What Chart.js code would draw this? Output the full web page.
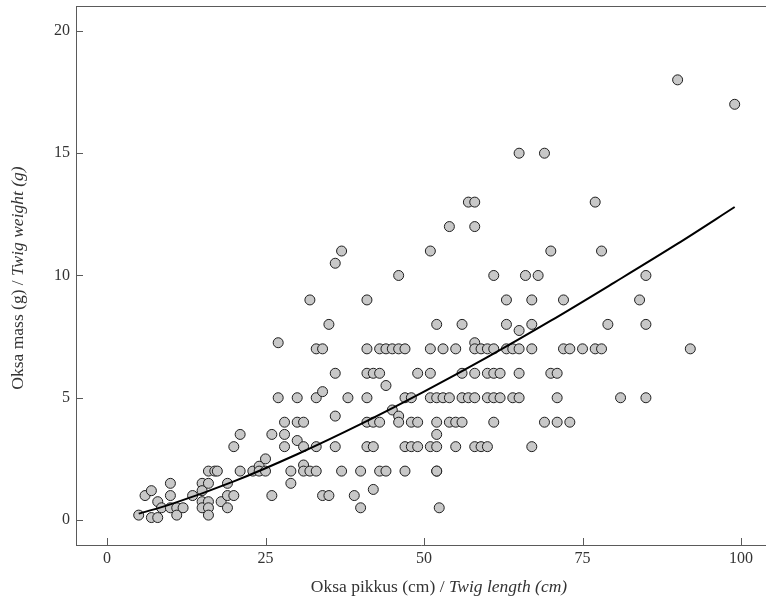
<!DOCTYPE html>
<html>
<head>
<meta charset="utf-8">
<script src="https://cdn.jsdelivr.net/npm/chart.js@4.4.1/dist/chart.umd.min.js"></script>
<style>
  html, body { margin: 0; padding: 0; background: #fff; }
  canvas { display: block; }
</style>
</head>
<body>
<canvas id="twigChart" width="766" height="604"></canvas>
<script>
// twig length (cm) and twig weight (g), one entry per twig
const twigLength = [
  5, 6, 7, 7, 8, 8, 8.6, 10, 10, 10, 11, 11, 12, 13.5, 15, 15, 15, 15, 16, 16,
  16, 16, 16, 17, 17.4, 18, 19, 19, 19, 20, 20, 21, 21, 23, 24, 24, 25, 25, 26, 26,
  27, 27, 28, 28, 28, 29, 29, 30, 30, 30, 31, 31, 31, 31, 32, 32, 33, 33, 33, 33,
  34, 34, 34, 35, 35, 36, 36, 36, 36, 37, 37, 38, 39, 40, 40, 41, 41, 41, 41, 41,
  41, 42, 42, 42, 42, 43, 43, 43, 43, 44, 44, 44, 45, 45, 46, 46, 46, 46, 47, 47,
  47, 47, 48, 48, 48, 49, 49, 49,
  51, 51, 51, 51, 51, 52, 52, 52, 52, 52, 52, 52, 52.4, 53, 53, 54, 54, 54, 55, 55,
  55, 56, 56, 56, 56, 57, 57, 58, 58, 58, 58, 58, 58, 58, 59, 59, 60, 60, 60, 60,
  61, 61, 61, 61, 61, 62, 62, 63, 63, 63, 64, 64, 65, 65, 65, 65, 65, 66, 67, 67,
  67, 67, 68, 69, 69, 70, 70, 71, 71, 71, 72, 72, 73, 73, 75, 77, 77, 78, 78, 79,
  81, 84, 85, 85, 85, 90, 92, 99
];
const twigWeight = [
  0.2, 1, 1.2, 0.1, 0.1, 0.75, 0.5, 1.5, 1, 0.5, 0.5, 0.2, 0.5, 1, 1.5, 1.2, 0.75, 0.5, 1.5, 0.75,
  0.5, 0.2, 2, 2, 2, 0.75, 1.5, 1, 0.5, 1, 3, 3.5, 2, 2, 2.2, 2, 2.5, 2, 3.5, 1,
  7.25, 5, 4, 3.5, 3, 2, 1.5, 5, 4, 3.25, 4, 3, 2.25, 2, 9, 2, 7, 5, 3, 2,
  7, 5.25, 1, 8, 1, 10.5, 6, 4.25, 3, 11, 2, 5, 1, 2, 0.5, 9, 7, 6, 5, 4,
  3, 6, 4, 3, 1.25, 7, 6, 4, 2, 7, 5.5, 2, 7, 4.5, 10, 7, 4.25, 4, 7, 5,
  3, 2, 5, 4, 3, 6, 4, 3,
  11, 7, 6, 5, 3, 8, 5, 4, 3.5, 3, 2, 2, 0.5, 7, 5, 12, 5, 4, 7, 4,
  3, 8, 6, 5, 4, 13, 5, 13, 12, 7.25, 7, 6, 5, 3, 7, 3, 7, 6, 5, 3,
  10, 7, 6, 5, 4, 6, 5, 9, 8, 7, 7, 5, 15, 7.75, 7, 6, 5, 10, 9, 8,
  7, 3, 10, 15, 4, 11, 6, 6, 5, 4, 9, 7, 7, 4, 7, 13, 7, 11, 7, 8,
  5, 9, 10, 8, 5, 18, 7, 17
];

// fitted curve
const fitLength = [5, 10, 20, 30, 40, 50, 60, 70, 80, 90, 99];
const fitWeight = [0.26, 0.64, 1.58, 2.69, 3.92, 5.25, 6.66, 8.15, 9.71, 11.3, 12.8];

const xTicks = [0, 25, 50, 75, 100];
const yTicks = [0, 5, 10, 15, 20];

const AXIS = '#5a5a5a';
const TEXT = '#333';
const FONT = '"Liberation Serif", "Times New Roman", serif';

const points = twigLength.map((x, i) => ({ x: x, y: twigWeight[i] }));
const curve = fitLength.map((x, i) => ({ x: x, y: fitWeight[i] }));

// ticks point into the plot, a top frame line, and the two-style axis titles
const framePlugin = {
  id: 'frame',
  afterDraw(chart) {
    const { ctx, chartArea: a, scales } = chart;
    ctx.save();
    ctx.strokeStyle = AXIS;
    ctx.lineWidth = 1;
    ctx.beginPath();
    ctx.moveTo(a.left, a.top + 0.5);
    ctx.lineTo(a.right, a.top + 0.5);
    xTicks.forEach(v => {
      const px = Math.round(scales.x.getPixelForValue(v)) + 0.5;
      ctx.moveTo(px, a.bottom);
      ctx.lineTo(px, a.bottom - 7);
    });
    yTicks.forEach(v => {
      const py = Math.round(scales.y.getPixelForValue(v)) + 0.5;
      ctx.moveTo(a.left, py);
      ctx.lineTo(a.left + 7, py);
    });
    ctx.stroke();

    ctx.fillStyle = TEXT;
    ctx.textBaseline = 'middle';
    ctx.textAlign = 'left';
    const drawTitle = (plain, italic, cx, cy, rot) => {
      ctx.save();
      ctx.translate(cx, cy);
      ctx.rotate(rot);
      ctx.font = '17.5px ' + FONT;
      const w1 = ctx.measureText(plain).width;
      ctx.font = 'italic 17.5px ' + FONT;
      const w2 = ctx.measureText(italic).width;
      const x0 = -(w1 + w2) / 2;
      ctx.font = '17.5px ' + FONT;
      ctx.fillText(plain, x0, 0);
      ctx.font = 'italic 17.5px ' + FONT;
      ctx.fillText(italic, x0 + w1, 0);
      ctx.restore();
    };
    drawTitle('Oksa pikkus (cm) / ', 'Twig length (cm)', 439, 587, 0);
    drawTitle('Oksa mass (g) / ', 'Twig weight (g)', 18, 278, -Math.PI / 2);
    ctx.restore();
  }
};

new Chart(document.getElementById('twigChart'), {
  type: 'scatter',
  data: {
    datasets: [
      {
        type: 'line',
        data: curve,
        borderColor: '#000',
        borderWidth: 2,
        pointRadius: 0,
        fill: false,
        cubicInterpolationMode: 'monotone'
      },
      {
        data: points,
        backgroundColor: '#c8c8c8',
        borderColor: '#1e1e1e',
        borderWidth: 1,
        pointRadius: 5
      }
    ]
  },
  options: {
    responsive: false,
    devicePixelRatio: 1,
    animation: false,
    layout: { autoPadding: false, padding: { top: 6, right: 0, bottom: 0, left: 0 } },
    plugins: { legend: { display: false }, tooltip: { enabled: false } },
    scales: {
      x: {
        type: 'linear',
        min: -4.89,
        max: 103.94,
        grid: { display: false, drawTicks: false },
        border: { display: true, color: AXIS, width: 1 },
        ticks: { color: TEXT, font: { family: FONT, size: 16 }, padding: 4 },
        afterBuildTicks: s => { s.ticks = xTicks.map(v => ({ value: v })); },
        afterFit: s => { s.height = 59; s.paddingLeft = 0; s.paddingRight = 0; }
      },
      y: {
        type: 'linear',
        min: -1.022,
        max: 21.02,
        grid: { display: false, drawTicks: false },
        border: { display: true, color: AXIS, width: 1 },
        ticks: { color: TEXT, font: { family: FONT, size: 16 }, padding: 6 },
        afterBuildTicks: s => { s.ticks = yTicks.map(v => ({ value: v })); },
        afterFit: s => { s.width = 76; s.paddingTop = 0; s.paddingBottom = 0; }
      }
    }
  },
  plugins: [framePlugin]
});
</script>
</body>
</html>
